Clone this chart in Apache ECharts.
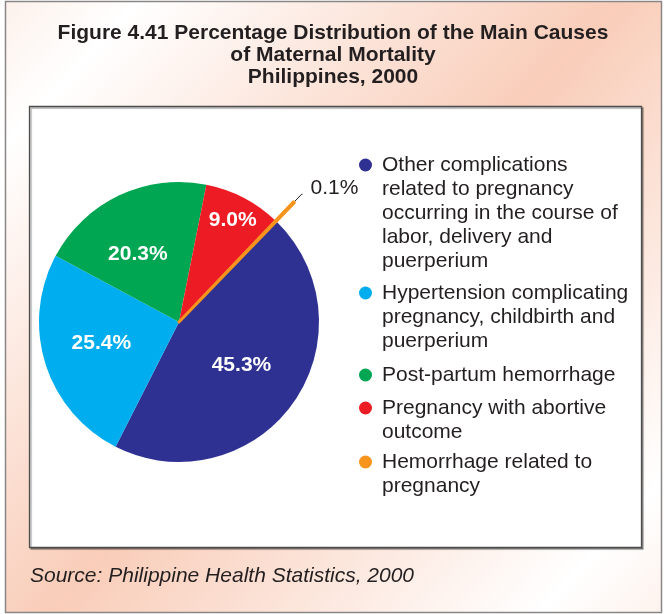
<!DOCTYPE html>
<html>
<head>
<meta charset="utf-8">
<script src="https://cdn.jsdelivr.net/npm/echarts@6/dist/echarts.min.js"></script>
<style>
  html, body { margin: 0; padding: 0; background: #fff; }
  #chart { width: 666px; height: 614px; }
</style>
</head>
<body>
<div id="chart"></div>
<script>
// causes of maternal mortality, legend order
var causes = [
    'Other complications\nrelated to pregnancy\noccurring in the course of\nlabor, delivery and\npuerperium',
    'Hypertension complicating\npregnancy, childbirth and\npuerperium',
    'Post-partum hemorrhage',
    'Pregnancy with abortive\noutcome',
    'Hemorrhage related to\npregnancy'
];
var shares = [45.3, 25.4, 20.3, 9.0, 0.1];
var sliceColors = ['#2e3192', '#00aeef', '#00a651', '#ed1c24', '#f7941d'];

// y of the first text line of each legend entry
var legendY = [165, 293, 375, 408, 462];
// small shifts for the labels inside the slices [dx, dy]
var labelNudge = [[3, 1], [-8, -1], [-10, -2], [20, -37], [0, 0]];

var FONT = 'Liberation Sans, Arial, Helvetica, sans-serif';
var INK = '#231f20';
var LH = 24;

var myChart = echarts.init(document.getElementById('chart'));

// one legend per entry; blank lines on top keep the dot on the first text line
var legends = [];
for (var i = 0; i < causes.length; i++) {
    var n = causes[i].split('\n').length;
    legends.push({
        data: [causes[i]],
        orient: 'vertical',
        left: 359,
        top: legendY[i] - (2 * n - 1) * LH / 2,
        padding: 0,
        icon: 'circle',
        itemWidth: 13,
        itemHeight: 13,
        itemGap: 0,
        selectedMode: false,
        formatter: (function (k) {
            return function (name) { return new Array(k).join('\n') + name; };
        })(n),
        textStyle: {
            color: INK,
            fontFamily: FONT,
            fontSize: 21,
            lineHeight: LH,
            padding: [0, 0, 0, 5]
        }
    });
}

var mainData = causes.map(function (c, i) {
    var item = {name: c, value: shares[i], itemStyle: {color: sliceColors[i]}};
    if (i === 4) item.label = {show: false};
    return item;
});

// the tiny slice is drawn longer, on top, with its outside label
var topData = causes.map(function (c, i) {
    if (i !== 4) {
        return {name: c, value: shares[i], itemStyle: {color: 'rgba(0,0,0,0)'}};
    }
    return {
        name: c,
        value: shares[i],
        itemStyle: {color: sliceColors[i], borderColor: sliceColors[i], borderWidth: 3},
        label: {
            show: true,
            position: 'outside',
            color: INK,
            fontFamily: FONT,
            fontSize: 21,
            distanceToLabelLine: 2,
            formatter: function (p) { return p.value.toFixed(1) + '%'; }
        },
        labelLine: {show: true, length: 11, length2: 1, lineStyle: {color: INK, width: 1}}
    };
});

var option = {
    backgroundColor: '#fff',
    animation: false,
    title: [
        {
            text: 'Figure 4.41 Percentage Distribution of the Main Causes\nof Maternal Mortality\nPhilippines, 2000',
            left: 'center',
            top: 22,
            padding: 0,
            textStyle: {color: INK, fontFamily: FONT, fontSize: 21, fontWeight: 'bold', lineHeight: 22, align: 'center'}
        },
        {
            text: 'Source: Philippine Health Statistics, 2000',
            left: 30,
            top: 564,
            padding: 0,
            textStyle: {color: INK, fontFamily: FONT, fontSize: 21, fontWeight: 'normal', fontStyle: 'italic', lineHeight: 24}
        }
    ],
    graphic: [
        {
            type: 'rect',
            z: -10,
            shape: {x: 5.5, y: 1.5, width: 656, height: 611},
            style: {
                fill: new echarts.graphic.LinearGradient(0, 0, 1, 1, [
                    {offset: 0, color: '#fdf1eb'},
                    {offset: 0.11, color: '#ffffff'},
                    {offset: 0.5, color: '#f9cdb9'},
                    {offset: 0.9, color: '#ffffff'},
                    {offset: 1, color: '#fdf2ed'}
                ]),
                stroke: '#8a8686',
                lineWidth: 1.5
            }
        },
        {
            type: 'rect',
            z: -9,
            shape: {x: 29.5, y: 106.5, width: 612, height: 441},
            style: {
                fill: '#fff',
                stroke: '#4d4d4d',
                lineWidth: 1.3,
                shadowColor: 'rgba(0,0,0,0.35)',
                shadowOffsetX: 1.5,
                shadowOffsetY: 1.5,
                shadowBlur: 1
            }
        }
    ],
    legend: legends,
    series: [
        {
            type: 'pie',
            center: [179, 322],
            radius: 140,
            startAngle: 46,
            clockwise: true,
            silent: true,
            avoidLabelOverlap: false,
            itemStyle: {borderWidth: 0},
            label: {
                show: true,
                position: 'inside',
                color: '#fff',
                fontFamily: FONT,
                fontSize: 21,
                fontWeight: 'bold',
                formatter: function (p) { return p.value.toFixed(1) + '%'; }
            },
            labelLine: {show: false},
            labelLayout: function (p) {
                var d = labelNudge[p.dataIndex];
                return {dx: d[0], dy: d[1]};
            },
            data: mainData
        },
        {
            type: 'pie',
            center: [179, 322],
            radius: 166,
            startAngle: 46,
            clockwise: true,
            silent: true,
            avoidLabelOverlap: false,
            z: 3,
            itemStyle: {borderWidth: 0},
            label: {show: false},
            labelLine: {show: false},
            labelLayout: {dx: 6, dy: -6},
            data: topData
        }
    ]
};

myChart.setOption(option);
</script>
</body>
</html>
